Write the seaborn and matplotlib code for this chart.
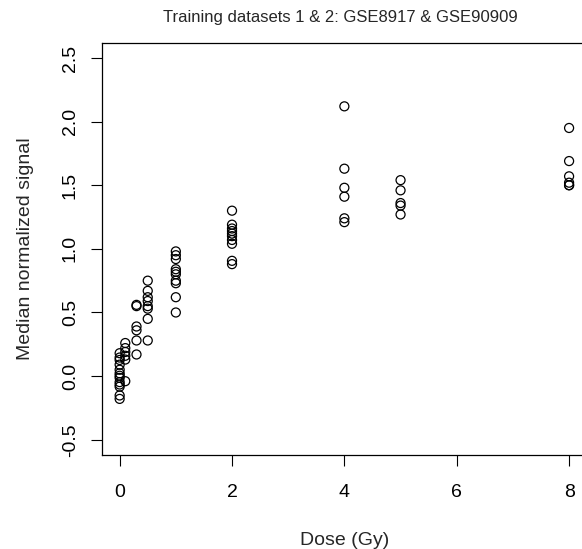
import pandas as pd
import matplotlib
matplotlib.use("Agg")
import matplotlib.pyplot as plt
import seaborn as sns

# Values, grouped by dose
dose_0 = [0.18, 0.146, 0.127, 0.09, 0.05, 0.022, 0.003, -0.014, -0.047, -0.066, -0.083, -0.152, -0.179]
dose_01 = [0.26, 0.22, 0.19, 0.16, 0.13, -0.04]
dose_03 = [0.56, 0.55, 0.39, 0.36, 0.28, 0.17]
dose_05 = [0.75, 0.67, 0.62, 0.59, 0.55, 0.53, 0.45, 0.28]
dose_1 = [0.98, 0.95, 0.92, 0.84, 0.82, 0.80, 0.75, 0.73, 0.62, 0.50]
dose_2 = [1.30, 1.19, 1.16, 1.14, 1.12, 1.10, 1.07, 1.04, 0.906, 0.88]
dose_4 = [2.12, 1.63, 1.48, 1.41, 1.24, 1.21]
dose_5 = [1.54, 1.46, 1.36, 1.34, 1.27]
dose_8 = [1.95, 1.69, 1.57, 1.52, 1.50, 1.50]

groups = {0: dose_0, 0.1: dose_01, 0.3: dose_03, 0.5: dose_05, 1: dose_1,
          2: dose_2, 4: dose_4, 5: dose_5, 8: dose_8}

x_ticks = [0, 2, 4, 6, 8]
y_ticks = [-0.5, 0.0, 0.5, 1.0, 1.5, 2.0, 2.5]

df = pd.DataFrame([(d, v) for d, vals in groups.items() for v in vals],
                  columns=["dose", "signal"])

sns.set_style("white")
plt.rcParams["font.family"] = ["Liberation Sans", "DejaVu Sans"]

fig = plt.figure(figsize=(5.82, 5.49), dpi=100)
ax = fig.add_axes([0.1747, 0.1712, 0.834, 0.751])

sns.scatterplot(data=df, x="dose", y="signal", ax=ax, s=42, marker="o",
                facecolor="none", edgecolor="black", linewidth=0.9)

ax.set_xlim(-0.32, 8.32)
ax.set_ylim(-0.62, 2.62)
ax.set_xticks(x_ticks)
ax.set_yticks(y_ticks)
ax.set_yticklabels([f"{t:.1f}" for t in y_ticks], rotation=90, va="center")
ax.tick_params(axis="both", direction="out", length=8, width=0.8,
               color="black", labelsize=14, labelcolor="black",
               bottom=True, left=True)
ax.tick_params(axis="x", pad=13)
ax.tick_params(axis="y", pad=8.5)
for side in ["left", "top", "bottom", "right"]:
    ax.spines[side].set_color("black")
    ax.spines[side].set_linewidth(0.9)

ax.set_xlabel("Dose (Gy)", fontsize=14, labelpad=22)
ax.set_ylabel("Median normalized signal", fontsize=14, labelpad=20)
fig.text(0.585, 0.968, "Training datasets 1 & 2: GSE8917 & GSE90909",
         ha="center", va="center", fontsize=12)
ax.grid(False)

fig.savefig("out.png", dpi=100)
